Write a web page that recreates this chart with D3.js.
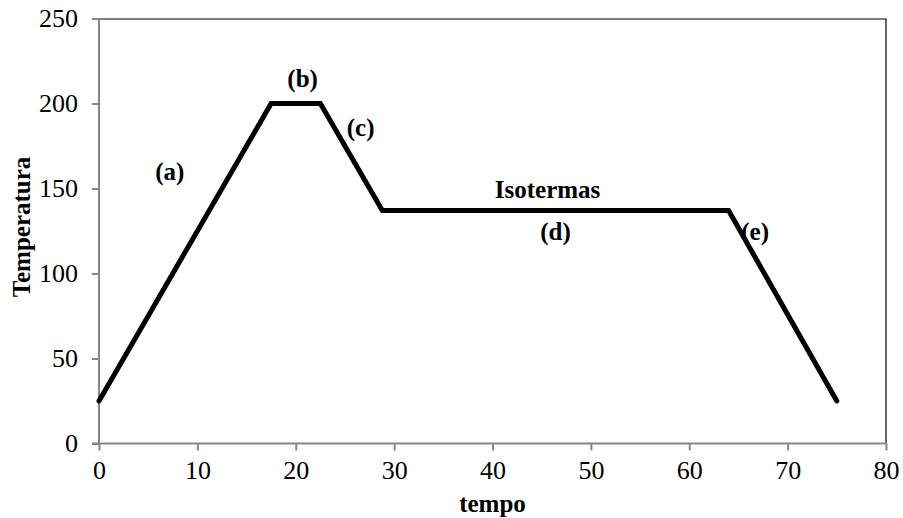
<!DOCTYPE html>
<html>
<head>
<meta charset="utf-8">
<script src="https://cdn.jsdelivr.net/npm/d3@7"></script>
<style>
  body { margin: 0; background: #fff; }
  svg { display: block; }
  text { font-family: "Liberation Serif", "Times New Roman", serif; fill: #000; }
</style>
</head>
<body>
<svg id="chart"></svg>
<script>
// Curve data: time vs temperature
const tempo = [0, 17.5, 22.5, 28.8, 64, 75];
const temperatura = [25, 200, 200, 137, 137, 25];

// Tick values
const xTicks = [0, 10, 20, 30, 40, 50, 60, 70, 80];
const yTicks = [0, 50, 100, 150, 200, 250];

// Annotations (text, x in tempo, y in temperatura)
const labelText = ["(a)", "(b)", "(c)", "Isotermas", "(d)", "(e)"];
const labelX = [7.2, 20.7, 26.6, 45.6, 46.4, 66.7];
const labelY = [155, 210, 181, 144.4, 119.5, 119.7];

const W = 903, H = 518;
const margin = { top: 18.5, right: 17, bottom: 74.5, left: 99 };
const iw = W - margin.left - margin.right;
const ih = H - margin.top - margin.bottom;

const svg = d3.select("#chart").attr("width", W).attr("height", H);
const g = svg.append("g").attr("transform", `translate(${margin.left},${margin.top})`);

const x = d3.scaleLinear().domain([0, 80]).range([0, iw]);
const y = d3.scaleLinear().domain([0, 250]).range([ih, 0]);

// Top and right border
g.append("path")
    .attr("d", `M0,0.5H${iw}V${ih}`)
    .attr("fill", "none")
    .attr("stroke", "#000")
    .attr("stroke-width", 1.2);

// Axes
const xAxis = g.append("g")
    .attr("transform", `translate(0,${ih})`)
    .call(d3.axisBottom(x).tickValues(xTicks).tickSize(7).tickPadding(10).tickFormat(d3.format("d")));
const yAxis = g.append("g")
    .call(d3.axisLeft(y).tickValues(yTicks).tickSize(7).tickPadding(14).tickFormat(d3.format("d")));

[xAxis, yAxis].forEach(a => {
  a.select(".domain").attr("stroke", "#868686").attr("stroke-width", 2);
  a.selectAll(".tick line").attr("stroke", "#868686").attr("stroke-width", 2);
  a.selectAll(".tick text")
      .style("font-family", "Liberation Serif, Times New Roman, serif")
      .style("font-size", "26px")
      .attr("fill", "#000");
});
yAxis.select(".domain").attr("d", `M0,${ih}V0`);
xAxis.select(".domain").attr("d", `M-7,0H${iw}`);

// Curve
const pts = tempo.map((t, i) => [t, temperatura[i]]);
g.append("path")
    .datum(pts)
    .attr("fill", "none")
    .attr("stroke", "#000")
    .attr("stroke-width", 5)
    .attr("stroke-linejoin", "miter")
    .attr("stroke-linecap", "round")
    .attr("d", d3.line().x(d => x(d[0])).y(d => y(d[1])));

// Annotations
g.selectAll(".ann")
    .data(labelText)
    .join("text")
    .attr("class", "ann")
    .attr("x", (d, i) => x(labelX[i]))
    .attr("y", (d, i) => y(labelY[i]))
    .attr("text-anchor", "middle")
    .attr("font-weight", "bold")
    .attr("font-size", 25)
    .text(d => d);

// Axis titles
svg.append("text")
    .attr("x", margin.left + iw / 2)
    .attr("y", 512)
    .attr("text-anchor", "middle")
    .attr("font-weight", "bold")
    .attr("font-size", 25)
    .text("tempo");

svg.append("text")
    .attr("transform", `translate(30,${margin.top + ih / 2 - 4}) rotate(-90)`)
    .attr("text-anchor", "middle")
    .attr("font-weight", "bold")
    .attr("font-size", 25)
    .text("Temperatura");
</script>
</body>
</html>
